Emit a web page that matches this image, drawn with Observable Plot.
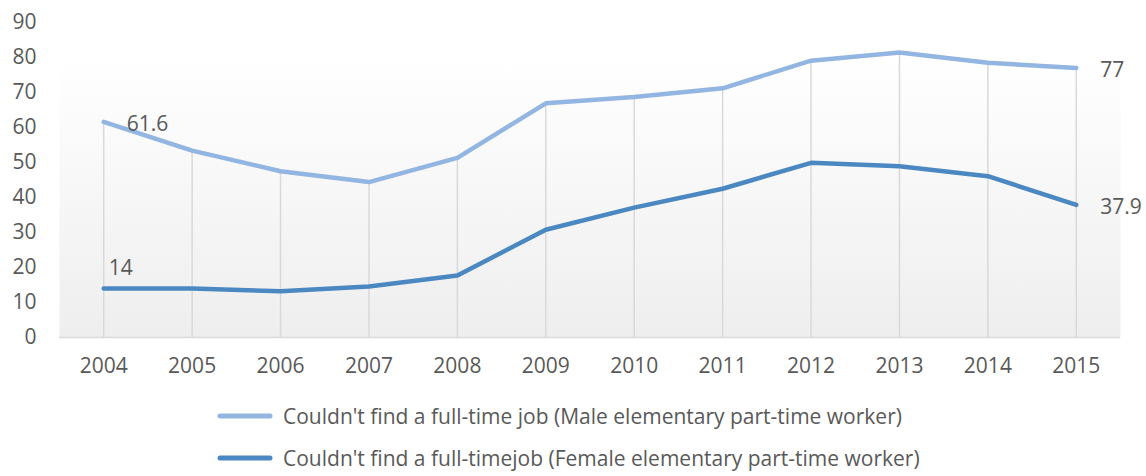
<!DOCTYPE html>
<html>
<head>
<meta charset="utf-8">
<script src="https://cdn.jsdelivr.net/npm/d3@7"></script>
<script src="https://cdn.jsdelivr.net/npm/@observablehq/plot@0.6"></script>
<style>
  body { margin: 0; background: #fff; font-family: "Open Sans", sans-serif; overflow: hidden; }
  #chart { width: 1146px; }
  .legend { width: 1146px; padding-top: 10px; }
  .row { display: flex; align-items: center; height: 42px; padding-left: 217px; font-size: 21px; line-height: 26px; color: #595959; }
  .row svg { margin-right: 10px; }
</style>
</head>
<body>
<div id="chart"></div>
<script>
const years = ["2004","2005","2006","2007","2008","2009","2010","2011","2012","2013","2014","2015"];
const maleValues = [61.6, 53.4, 47.5, 44.4, 51.3, 66.9, 68.7, 71.2, 79.1, 81.4, 78.5, 77];
const femaleValues = [14, 14, 13.2, 14.6, 17.7, 30.8, 37.1, 42.5, 49.9, 48.9, 46.1, 37.9];
const seriesNames = [
  "Couldn't find a full-time job (Male elementary part-time worker)",
  "Couldn't find a full-timejob (Female elementary part-time worker)"
];
const seriesColors = ["#92b6e1", "#4b88c1"];
const yTicks = [0,10,20,30,40,50,60,70,80,90];

const male = years.map((y, i) => ({year: y, value: maleValues[i], series: seriesNames[0]}));
const female = years.map((y, i) => ({year: y, value: femaleValues[i], series: seriesNames[1]}));
const all = male.concat(female);
const labels = [male[0], female[0], male[male.length-1], female[female.length-1]];

const chart = Plot.plot({
  width: 1146,
  height: 385,
  marginTop: 22,
  marginBottom: 48,
  marginLeft: 59,
  marginRight: 26,
  style: {fontFamily: "'Open Sans', sans-serif", fontSize: "21px", color: "#595959", background: "transparent"},
  x: {type: "point", domain: years, padding: 0.5, round: false, label: null, tickSize: 0, tickPadding: 21},
  y: {domain: [0, 90], ticks: yTicks, label: null, tickSize: 0, tickPadding: 23},
  color: {domain: seriesNames, range: seriesColors},
  marks: [
    Plot.frame({fill: "url(#bgGrad)", stroke: null}),
    Plot.ruleX(male, {x: "year", y1: 0, y2: "value", stroke: "#d9d9d9", strokeWidth: 1.5}),
    Plot.ruleY([0], {stroke: "#d9d9d9", strokeWidth: 1.5}),
    Plot.axisX({tickSize: 0, tickPadding: 21, fontSize: 21, fill: "#595959"}),
    Plot.axisY({ticks: yTicks, tickSize: 0, tickPadding: 23, fontSize: 21, fill: "#595959"}),
    Plot.line(all, {x: "year", y: "value", z: "series", stroke: "series", strokeWidth: 4.5, strokeLinejoin: "round", strokeLinecap: "round"}),
    Plot.text(labels.slice(0,1), {x: "year", y: "value", text: d => String(d.value), dx: 23, dy: 2, textAnchor: "start", fontSize: 21, fill: "#595959"}),
    Plot.text(labels.slice(1,2), {x: "year", y: "value", text: d => String(d.value), dx: 5, dy: -20, textAnchor: "start", fontSize: 21, fill: "#595959"}),
    Plot.text(labels.slice(2), {x: "year", y: "value", text: d => String(d.value), dx: 24, dy: 2, textAnchor: "start", fontSize: 21, fill: "#595959"})
  ]
});

const ns = "http://www.w3.org/2000/svg";
const defs = document.createElementNS(ns, "defs");
defs.innerHTML = '<linearGradient id="bgGrad" x1="0" y1="0" x2="0" y2="1"><stop offset="0" stop-color="#ffffff"/><stop offset="0.12" stop-color="#ffffff"/><stop offset="1" stop-color="#eeeeee"/></linearGradient>';
chart.insertBefore(defs, chart.firstChild);
document.getElementById("chart").appendChild(chart);

const legend = document.createElement("div");
legend.className = "legend";
seriesNames.forEach((name, i) => {
  const row = document.createElement("div");
  row.className = "row";
  row.innerHTML = `<svg width="56" height="10"><line x1="3" x2="53" y1="5" y2="5" stroke="${seriesColors[i]}" stroke-width="5" stroke-linecap="round"/></svg><span>${name}</span>`;
  legend.appendChild(row);
});
document.body.appendChild(legend);
</script>
</body>
</html>
